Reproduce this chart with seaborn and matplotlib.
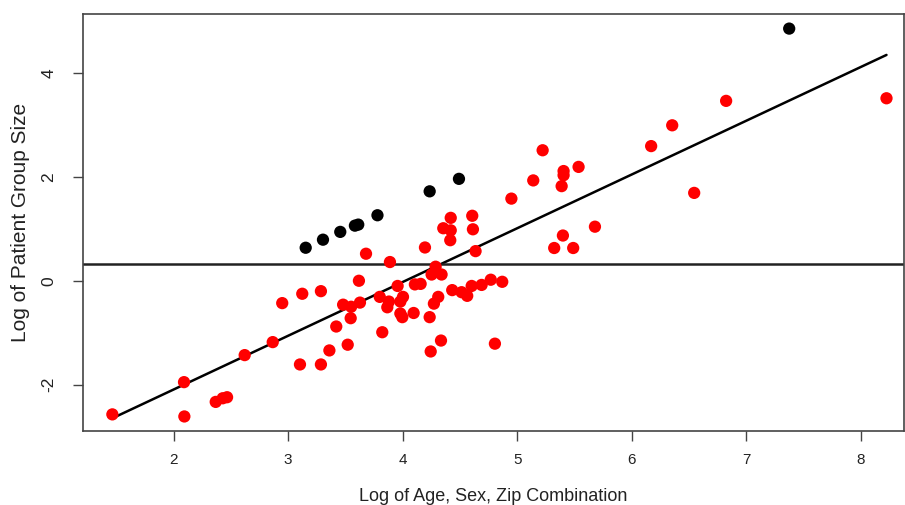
import matplotlib
matplotlib.use("Agg")
import matplotlib.pyplot as plt
import seaborn as sns
import numpy as np
import pandas as pd

# red points (regular groups)
red_x = [1.464, 2.090, 2.093, 2.367, 2.428, 2.466, 2.620, 2.865, 2.948, 3.103,
         3.123, 3.286, 3.286, 3.360, 3.420, 3.480, 3.520, 3.546, 3.550, 3.618,
         3.627, 3.680, 3.800, 3.822, 3.866, 3.880, 3.889, 3.956, 3.980, 4.003,
         3.980, 3.997, 4.096, 4.107, 4.157, 4.195, 4.236, 4.245, 4.253, 4.288,
         4.273, 4.311, 4.340, 4.335, 4.355, 4.420, 4.420, 4.416, 4.433, 4.515,
         4.564, 4.603, 4.608, 4.614, 4.637, 4.690, 4.770, 4.806, 4.870, 4.950,
         5.141, 5.223, 5.324, 5.389, 5.400, 5.406, 5.406, 5.490, 5.537, 5.680,
         6.171, 6.355, 6.547, 6.826, 8.227]
red_y = [-2.57, -1.95, -2.61, -2.33, -2.26, -2.24, -1.43, -1.18, -0.43, -1.61,
         -0.25, -0.20, -1.61, -1.34, -0.88, -0.46, -1.23, -0.72, -0.50, 0.00,
         -0.42, 0.52, -0.31, -0.99, -0.51, -0.40, 0.36, -0.10, -0.40, -0.31,
         -0.63, -0.70, -0.62, -0.07, -0.06, 0.64, -0.70, -1.36, 0.12, 0.27,
         -0.44, -0.31, 0.12, -1.15, 1.01, 0.97, 1.21, 0.78, -0.18, -0.22,
         -0.29, -0.10, 1.25, 0.99, 0.57, -0.08, 0.02, -1.21, -0.02, 1.58,
         1.93, 2.51, 0.63, 1.82, 0.87, 2.03, 2.11, 0.63, 2.19, 1.04,
         2.59, 2.99, 1.69, 3.46, 3.51]

# black points (flagged groups)
black_x = [3.153, 3.304, 3.455, 3.583, 3.612, 3.780, 4.236, 4.492, 7.377]
black_y = [0.635, 0.79, 0.94, 1.06, 1.08, 1.26, 1.72, 1.96, 4.85]

threshold = 0.315

x_ticks = [2, 3, 4, 5, 6, 7, 8]
y_ticks = [-2, 0, 2, 4]

df = pd.DataFrame({
    "x": red_x + black_x,
    "y": red_y + black_y,
    "group": ["red"] * len(red_x) + ["black"] * len(black_x),
})

sns.set_style("ticks")
plt.rcParams["font.family"] = ["Liberation Sans", "DejaVu Sans"]

fig = plt.figure(figsize=(9.05, 5.05), dpi=100)
ax = fig.add_axes([0.0914, 0.1465, 0.9075, 0.8257])

sns.scatterplot(data=df, x="x", y="y", hue="group",
                palette={"red": "#ff0000", "black": "black"},
                s=78, linewidth=0, legend=False, ax=ax, zorder=3)

# least squares line over all points
sns.regplot(data=df, x="x", y="y", scatter=False, ci=None,
            truncate=True, color="black", line_kws={"lw": 1.8}, ax=ax)

ax.axhline(threshold, color="#222222", lw=1.8)

ax.set_xlim(1.205, 8.38)
ax.set_ylim(-2.89, 5.13)
ax.set_xticks(x_ticks)
ax.set_yticks(y_ticks)
ax.set_yticklabels([str(v) for v in y_ticks], rotation=90, va="center")

for sp in ax.spines.values():
    sp.set_visible(True)
    sp.set_color("#444444")
    sp.set_linewidth(1.2)
ax.tick_params(direction="out", length=7, width=1, color="#444444",
               labelcolor="#222222")
ax.tick_params(axis="x", labelsize=11, pad=9)
ax.tick_params(axis="y", labelsize=12.5, pad=12)

ax.set_xlabel("Log of Age, Sex, Zip Combination", fontsize=13, labelpad=15, color="#222222")
ax.set_ylabel("Log of Patient Group Size", fontsize=15, labelpad=8, color="#222222")

fig.savefig("out.png", dpi=100)
